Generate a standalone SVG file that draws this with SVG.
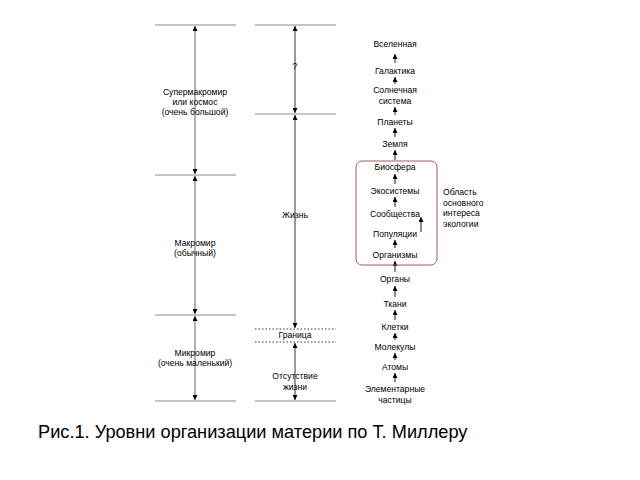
<svg xmlns="http://www.w3.org/2000/svg" width="640" height="480" viewBox="0 0 640 480">
<defs>
<marker id="ah" viewBox="0 0 10 10" refX="10" refY="5" markerWidth="5" markerHeight="5" markerUnits="userSpaceOnUse" orient="auto-start-reverse">
<path d="M0,0 L10,5 L0,10 z" fill="#000"/>
</marker>
<style>
text{font-family:"Liberation Sans",Arial,sans-serif;font-size:8.6px;fill:#000;text-anchor:middle}
.cap{font-size:18.2px;text-anchor:start}
.l{text-anchor:start}
.h{stroke:#8a8a8a;stroke-width:1.2}
.hd{stroke:#000;stroke-width:0.8;stroke-dasharray:1.5,2}
.vg{stroke:#999;stroke-width:1.5;marker-start:url(#ah);marker-end:url(#ah)}
.vb{stroke:#000;stroke-width:0.8;marker-start:url(#ah);marker-end:url(#ah)}
.a{stroke:#000;stroke-width:0.9;marker-end:url(#ah)}
</style>
</defs>
<rect width="640" height="480" fill="#fff"/>
<g id="scales">
<line class="h" x1="155" y1="25" x2="236" y2="25"/>
<line class="h" x1="155" y1="175" x2="236" y2="175"/>
<line class="h" x1="155" y1="315" x2="236" y2="315"/>
<line class="h" x1="155" y1="401" x2="236" y2="401"/>
<line class="h" x1="255" y1="25" x2="336" y2="25"/>
<line class="h" x1="255" y1="114" x2="336" y2="114"/>
<line class="hd" x1="255" y1="329" x2="336" y2="329"/>
<line class="hd" x1="255" y1="342" x2="336" y2="342"/>
<line class="h" x1="255" y1="401" x2="336" y2="401"/>
</g>
<g id="connectors">
<line class="vg" x1="195" y1="174" x2="195" y2="26"/>
<line class="vg" x1="195" y1="314" x2="195" y2="176"/>
<line class="vg" x1="195" y1="400" x2="195" y2="316"/>
<line class="vb" x1="295" y1="113" x2="295" y2="26"/>
<line class="vb" x1="295" y1="328" x2="295" y2="115"/>
<line class="vb" x1="295" y1="400" x2="295" y2="343"/>
<line class="a" x1="395" y1="63" x2="395" y2="54"/>
<line class="a" x1="395" y1="84" x2="395" y2="77"/>
<line class="a" x1="395" y1="115" x2="395" y2="107"/>
<line class="a" x1="395" y1="137" x2="395" y2="128"/>
<line class="a" x1="395" y1="160" x2="395" y2="150"/>
<line class="a" x1="395" y1="184" x2="395" y2="174"/>
<line class="a" x1="395" y1="207" x2="395" y2="197"/>
<line class="a" x1="395" y1="248" x2="395" y2="240"/>
<line class="a" x1="395" y1="272" x2="395" y2="261"/>
<line class="a" x1="395" y1="297" x2="395" y2="286"/>
<line class="a" x1="395" y1="320" x2="395" y2="310"/>
<line class="a" x1="395" y1="340" x2="395" y2="333"/>
<line class="a" x1="395" y1="360" x2="395" y2="353"/>
<line class="a" x1="395" y1="382" x2="395" y2="373"/>
<line class="a" x1="421" y1="232" x2="421" y2="217"/>
</g>
<g id="ecology-box">
<rect x="356" y="161" width="81" height="104" rx="6" fill="none" stroke="#a85a5a" stroke-width="1"/>
</g>
<g id="scale-labels">
<text x="195" y="95">Супермакромир</text>
<text x="195" y="105">или космос</text>
<text x="195" y="115">(очень большой)</text>
<text x="195" y="246">Макромир</text>
<text x="195" y="256">(обычный)</text>
<text x="195" y="356">Микромир</text>
<text x="195" y="366">(очень маленький)</text>
<text x="295" y="69">?</text>
<text x="295" y="218">Жизнь</text>
<text x="295" y="338">Граница</text>
<text x="295" y="379">Отсутствие</text>
<text x="295" y="390">жизни</text>
</g>
<g id="levels">
<text x="395" y="47">Вселенная</text>
<text x="395" y="74">Галактика</text>
<text x="395" y="93">Солнечная</text>
<text x="395" y="104">система</text>
<text x="395" y="125">Планеты</text>
<text x="395" y="147">Земля</text>
<text x="395" y="170">Биосфера</text>
<text x="395" y="194">Экосистемы</text>
<text x="395" y="217">Сообщества</text>
<text x="395" y="237">Популяции</text>
<text x="395" y="258">Организмы</text>
<text x="395" y="282">Органы</text>
<text x="395" y="307">Ткани</text>
<text x="395" y="330">Клетки</text>
<text x="395" y="350">Молекулы</text>
<text x="395" y="370">Атомы</text>
<text x="395" y="392">Элементарные</text>
<text x="395" y="403">частицы</text>
</g>
<g id="ecology-label">
<text class="l" x="443" y="195">Область</text>
<text class="l" x="443" y="206">основного</text>
<text class="l" x="443" y="216">интереса</text>
<text class="l" x="443" y="227">экологии</text>
</g>
<text class="cap" x="38" y="438">Рис.1. Уровни организации материи по Т. Миллеру</text>
</svg>
